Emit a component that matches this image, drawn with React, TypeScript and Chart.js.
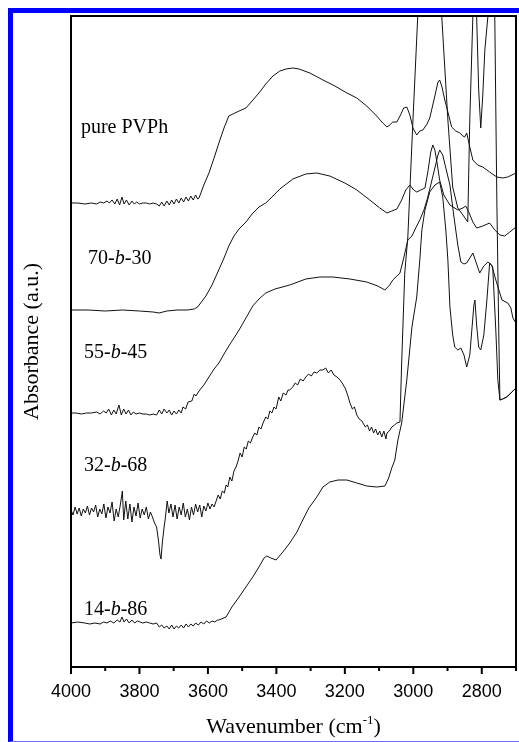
import React, { useEffect, useRef } from "react";
import { Chart, registerables } from "chart.js";

Chart.register(...registerables);

// ---------- axis ranges ----------
const X_MIN = 2700;
const X_MAX = 4000;
const Y_MIN = 0;
const Y_MAX = 651;
const X_TICK_STEP = 100;
const X_LABEL_STEP = 200;

// ---------- spectra: [wavenumber (cm-1), absorbance (a.u., offset)] ----------
const PURE_PVPH: [number, number][] = [
  [4000,464],[3980,464],[3960,463],[3940,464],[3925,463],[3915,465],[3905,464],[3895,466],[3888,464],[3880,467],
  [3872,463],[3865,468],[3858,462],[3851,470],[3845,463],[3838,467],[3830,462],[3822,466],[3815,463],[3808,465],
  [3800,463],[3790,464],[3780,464],[3770,463],[3760,464],[3750,463],[3742,461],[3735,465],[3728,461],[3720,466],
  [3713,462],[3706,467],[3699,463],[3692,468],[3685,464],[3678,469],[3671,465],[3664,470],[3657,466],[3650,471],
  [3643,467],[3636,472],[3630,468],[3626,469],[3612,482],[3597,494],[3582,509],[3568,524],[3553,539],[3539,551],
  [3527,553],[3509,556],[3489,559],[3471,566],[3451,574],[3431,583],[3410,591],[3390,596],[3372,598],[3352,599],
  [3334,598],[3302,594],[3264,587],[3229,581],[3194,574],[3165,569],[3136,561],[3107,551],[3089,544],[3077,540],
  [3069,542],[3060,545],[3048,545],[3036,553],[3028,559],[3019,560],[3010,552],[3001,539],[2990,532],[2981,536],
  [2972,537],[2960,543],[2952,549],[2937,571],[2928,585],[2923,587],[2917,581],[2908,567],[2899,555],[2888,540],
  [2876,536],[2864,534],[2855,531],[2850,530],[2844,534],[2835,520],[2826,507],[2812,502],[2797,500],[2777,495],
  [2756,490],[2739,489],[2724,490],[2700,494],
];

const S_70_30: [number, number][] = [
  [4000,357],[3950,357],[3900,356],[3850,357],[3800,356],[3760,355],[3743,354],[3720,356],[3690,357],[3660,357],
  [3640,358],[3630,360],[3606,371],[3588,382],[3571,395],[3553,409],[3539,421],[3524,431],[3509,438],[3489,445],
  [3471,453],[3451,460],[3431,464],[3410,471],[3390,478],[3352,488],[3314,493],[3282,494],[3244,491],[3200,484],
  [3165,477],[3127,467],[3098,459],[3077,454],[3063,456],[3048,458],[3034,467],[3022,477],[3010,482],[2999,477],
  [2990,475],[2978,477],[2966,479],[2958,494],[2949,515],[2943,522],[2937,517],[2931,505],[2923,487],[2911,472],
  [2893,462],[2870,457],[2855,459],[2847,461],[2838,455],[2826,445],[2815,439],[2797,441],[2777,444],[2762,437],
  [2747,432],[2733,431],[2718,435],[2700,440],
];

const S_55_45: [number, number][] = [
  [4000,254],[3985,254],[3970,253],[3955,254],[3940,254],[3925,255],[3915,253],[3905,256],[3897,254],[3890,258],
  [3882,252],[3875,257],[3868,253],[3860,262],[3853,252],[3846,258],[3839,253],[3832,257],[3825,252],[3818,255],
  [3810,253],[3800,254],[3790,253],[3780,253],[3770,252],[3760,253],[3750,252],[3742,257],[3735,253],[3728,258],
  [3720,254],[3713,257],[3706,252],[3699,256],[3692,253],[3685,257],[3678,254],[3673,260],[3665,258],[3658,265],
  [3647,266],[3640,273],[3635,271],[3626,276],[3612,282],[3597,290],[3582,298],[3568,304],[3553,313],[3539,321],
  [3524,329],[3509,337],[3489,349],[3469,361],[3451,368],[3431,374],[3404,378],[3361,382],[3314,388],[3273,390],
  [3235,390],[3185,388],[3136,385],[3104,381],[3083,377],[3069,382],[3060,387],[3039,394],[3028,409],[3016,427],
  [3004,431],[2993,439],[2981,447],[2969,457],[2960,467],[2949,482],[2937,499],[2928,512],[2923,517],[2914,512],
  [2905,499],[2893,482],[2882,452],[2870,422],[2861,405],[2852,403],[2844,404],[2835,409],[2826,414],[2817,405],
  [2806,394],[2794,401],[2782,405],[2771,402],[2759,387],[2741,367],[2724,364],[2715,359],[2709,349],[2700,344],
];

const S_32_68: [number, number][] = [
  [4000,157],[3994,152],[3988,160],[3982,153],[3976,159],[3970,151],[3964,158],[3958,154],[3952,161],[3946,152],
  [3940,159],[3934,155],[3928,162],[3922,150],[3916,158],[3910,153],[3904,163],[3898,149],[3892,160],[3886,154],
  [3880,165],[3874,146],[3868,158],[3862,150],[3856,162],[3850,176],[3846,147],[3840,166],[3834,148],[3828,163],
  [3822,145],[3816,160],[3810,151],[3804,164],[3798,149],[3792,158],[3786,152],[3780,160],[3774,148],[3768,155],
  [3762,150],[3756,144],[3750,140],[3745,128],[3740,112],[3737,108],[3733,125],[3728,140],[3724,150],[3719,166],
  [3714,154],[3708,163],[3702,150],[3696,162],[3690,148],[3684,160],[3678,152],[3672,164],[3666,150],[3660,158],
  [3654,147],[3648,160],[3642,152],[3636,163],[3630,155],[3624,162],[3618,150],[3612,161],[3606,156],[3600,164],
  [3594,158],[3588,163],[3582,160],[3576,166],[3570,172],[3564,168],[3558,176],[3552,174],[3547,182],[3542,180],
  [3536,190],[3530,186],[3524,196],[3518,200],[3512,206],[3506,214],[3500,210],[3494,220],[3488,218],[3482,226],
  [3476,224],[3469,230],[3463,234],[3457,232],[3451,240],[3445,238],[3439,244],[3431,250],[3425,248],[3419,256],
  [3413,254],[3407,260],[3401,258],[3393,270],[3387,266],[3380,274],[3372,272],[3366,277],[3361,277],[3352,280],
  [3345,284],[3338,282],[3330,288],[3322,286],[3314,290],[3306,293],[3298,291],[3290,295],[3282,294],[3273,297],
  [3264,297],[3256,299],[3248,294],[3240,297],[3232,292],[3223,290],[3214,287],[3206,283],[3198,278],[3190,270],
  [3185,264],[3178,258],[3172,260],[3165,252],[3158,248],[3150,246],[3147,244],[3140,240],[3134,242],[3128,236],
  [3122,240],[3116,234],[3110,238],[3104,232],[3098,236],[3092,230],[3086,236],[3080,228],[3077,234],[3070,236],
  [3063,240],[3055,242],[3048,244],[3039,245],[3034,304],[3025,394],[3016,430],[3010,477],[3001,547],[2987,651],
  [2952,917],[2917,651],[2899,547],[2885,480],[2870,459],[2855,452],[2841,445],[2835,547],[2826,651],[2820,707],
  [2815,651],[2809,577],[2803,539],[2797,572],[2791,617],[2782,651],[2774,767],[2762,651],[2756,467],[2750,327],
  [2747,267],[2739,268],[2727,270],[2712,275],[2700,279],
];

const S_14_86: [number, number][] = [
  [4000,44],[3980,45],[3960,44],[3945,43],[3930,44],[3915,43],[3905,45],[3895,44],[3885,46],[3875,44],
  [3865,47],[3857,45],[3851,50],[3845,45],[3838,48],[3830,44],[3822,47],[3814,44],[3806,46],[3798,45],
  [3790,44],[3780,45],[3770,44],[3760,43],[3750,44],[3742,40],[3735,42],[3728,39],[3720,41],[3713,38],
  [3706,42],[3699,38],[3692,41],[3685,39],[3678,42],[3671,39],[3664,43],[3657,40],[3650,43],[3643,41],
  [3636,44],[3628,42],[3620,45],[3612,43],[3604,46],[3596,44],[3588,46],[3580,45],[3572,47],[3568,47],
  [3547,50],[3530,60],[3509,70],[3489,80],[3469,90],[3451,100],[3436,109],[3428,111],[3416,109],[3401,107],
  [3381,115],[3361,124],[3340,135],[3323,147],[3305,159],[3282,170],[3264,180],[3244,185],[3220,187],[3194,187],
  [3165,184],[3136,181],[3107,180],[3083,181],[3072,189],[3063,199],[3054,207],[3045,227],[3034,244],[3019,287],
  [3004,340],[2990,370],[2981,407],[2975,437],[2966,457],[2952,475],[2937,482],[2923,485],[2914,470],[2905,437],
  [2899,407],[2893,360],[2885,332],[2879,320],[2870,317],[2861,319],[2852,312],[2844,300],[2835,312],[2829,337],
  [2823,362],[2820,367],[2815,342],[2809,320],[2803,317],[2794,332],[2785,367],[2777,404],[2768,400],[2759,337],
  [2753,287],[2747,267],[2739,268],[2727,270],[2712,275],[2700,279],
];

const SERIES = [PURE_PVPH, S_70_30, S_55_45, S_32_68, S_14_86];

// ---------- series labels (text, anchor wavenumber, anchor absorbance) ----------
const LABEL_TEXT = ["pure PVPh", "70-b-30", "55-b-45", "32-b-68", "14-b-86"];
const LABEL_WN = [3971, 3950, 3962, 3962, 3962];
const LABEL_VAL = [534, 403, 309, 196, 52];

const X_TITLE = "Wavenumber (cm";
const X_TITLE_SUP = "-1";
const Y_TITLE = "Absorbance (a.u.)";

const SERIF = "'Liberation Serif', 'Times New Roman', serif";
const SANS = "'Liberation Sans', Arial, sans-serif";

function drawLabel(ctx: CanvasRenderingContext2D, text: string, x: number, y: number) {
  const parts: { t: string; italic: boolean }[] = [];
  const m = text.match(/^(\d+-)(b)(-\d+)$/);
  if (m) {
    parts.push({ t: m[1], italic: false }, { t: m[2], italic: true }, { t: m[3], italic: false });
  } else {
    parts.push({ t: text, italic: false });
  }
  let cx = x;
  ctx.textBaseline = "alphabetic";
  ctx.textAlign = "left";
  for (const p of parts) {
    ctx.font = `${p.italic ? "italic " : ""}20px ${SERIF}`;
    ctx.fillText(p.t, cx, y);
    cx += ctx.measureText(p.t).width;
  }
}

const decorPlugin = {
  id: "decor",
  afterDatasetsDraw(chart: any) {
    const { ctx, chartArea: a } = chart;
    const xs = chart.scales.x;
    const ys = chart.scales.y;
    ctx.save();
    ctx.strokeStyle = "#000";
    ctx.fillStyle = "#000";
    ctx.lineWidth = 2;
    // frame
    ctx.strokeRect(a.left, a.top, a.right - a.left, a.bottom - a.top);
    // tick marks
    for (let v = X_MIN; v <= X_MAX; v += X_TICK_STEP) {
      const px = xs.getPixelForValue(v);
      const len = v % X_LABEL_STEP === 0 ? 7 : 4;
      ctx.beginPath();
      ctx.moveTo(px, a.bottom);
      ctx.lineTo(px, a.bottom + len);
      ctx.stroke();
    }
    // series labels
    for (let i = 0; i < LABEL_TEXT.length; i++) {
      drawLabel(ctx, LABEL_TEXT[i], xs.getPixelForValue(LABEL_WN[i]), ys.getPixelForValue(LABEL_VAL[i]));
    }
    // x title with superscript
    const big = `22px ${SERIF}`;
    const small = `13px ${SERIF}`;
    ctx.font = big;
    const w1 = ctx.measureText(X_TITLE).width;
    const w3 = ctx.measureText(")").width;
    ctx.font = small;
    const w2 = ctx.measureText(X_TITLE_SUP).width;
    const total = w1 + w2 + w3;
    const cxm = (a.left + a.right) / 2;
    const base = chart.height - 9;
    let tx = cxm - total / 2;
    ctx.textAlign = "left";
    ctx.textBaseline = "alphabetic";
    ctx.font = big;
    ctx.fillText(X_TITLE, tx, base);
    tx += w1;
    ctx.font = small;
    ctx.fillText(X_TITLE_SUP, tx, base - 9);
    tx += w2;
    ctx.font = big;
    ctx.fillText(")", tx, base);
    ctx.restore();
  },
};

export default function App() {
  const ref = useRef<HTMLCanvasElement | null>(null);
  useEffect(() => {
    if (!ref.current) return;
    const chart = new Chart(ref.current, {
      type: "line",
      data: {
        datasets: SERIES.map((s, i) => ({
          label: LABEL_TEXT[i],
          data: s.map(([x, y]) => ({ x, y })),
          borderColor: "#111",
          borderWidth: 1,
          pointRadius: 0,
          tension: 0,
          fill: false,
        })),
      },
      options: {
        animation: false,
        responsive: false,
        maintainAspectRatio: false,
        events: [],
        layout: { padding: { left: 0, right: 3, top: 16, bottom: 0 } },
        plugins: { legend: { display: false }, tooltip: { enabled: false } },
        scales: {
          x: {
            type: "linear",
            reverse: true,
            min: X_MIN,
            max: X_MAX,
            grid: { display: false, drawTicks: false },
            border: { display: false },
            ticks: {
              stepSize: X_TICK_STEP,
              autoSkip: false,
              maxRotation: 0,
              padding: 14,
              color: "#000",
              font: { family: SANS, size: 18 },
              callback: (v: any) => (Number(v) % X_LABEL_STEP === 0 ? String(v) : ""),
            },
            afterFit: (s: any) => {
              s.height = 75;
              s.paddingLeft = 0;
              s.paddingRight = 0;
            },
          },
          y: {
            type: "linear",
            min: Y_MIN,
            max: Y_MAX,
            grid: { display: false, drawTicks: false },
            border: { display: false },
            ticks: { display: false },
            title: {
              display: true,
              text: Y_TITLE,
              color: "#000",
              font: { family: SERIF, size: 22 },
              padding: { top: 19, bottom: 0 },
            },
            afterFit: (s: any) => {
              s.width = 71;
              s.paddingTop = 0;
              s.paddingBottom = 0;
            },
          },
        },
      },
      plugins: [decorPlugin],
    } as any);
    return () => chart.destroy();
  }, []);

  return (
    <div>
      <div
        style={{
          position: "absolute",
          left: 8,
          top: 8,
          width: 511,
          height: 734,
          boxSizing: "border-box",
          borderTop: "5px solid #0000ff",
          borderLeft: "5px solid #0000ff",
          borderBottom: "1px solid #6d6dff",
        }}
      />
      <canvas
        ref={ref}
        width={519}
        height={742}
        style={{ position: "absolute", left: 0, top: 0, width: 519, height: 742 }}
      />
    </div>
  );
}
